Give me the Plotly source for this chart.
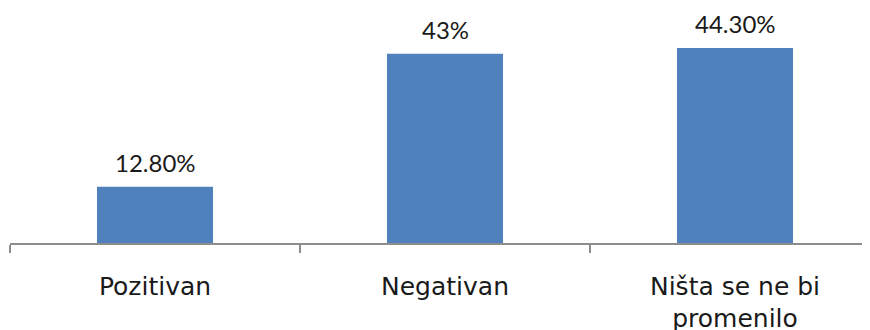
import plotly.graph_objects as go

kategorije = ['Pozitivan', 'Negativan', 'Ništa se ne bi<br>promenilo']
vrednosti = [12.8, 43, 44.3]
natpisi = ['12.80%', '43%', '44.30%']

plava = '#4F81BD'
font_natpis = "Century Gothic, Lato, sans-serif"
font_osa = "Century Gothic, DejaVu Sans, sans-serif"

fig = go.Figure(go.Bar(
    x=kategorije,
    y=vrednosti,
    marker_color=plava,
    marker_line_width=0,
    width=0.4,
    hoverinfo='skip',
))

# natpisi iznad stubova
for k, v, t in zip(kategorije, vrednosti, natpisi):
    fig.add_annotation(x=k, y=v, text=t, showarrow=False,
                       yanchor='bottom', yshift=8,
                       font=dict(size=24, color='#1a1a1a', family=font_natpis))

# stranica ima 8px margine na body, pa su margine pomerene
fig.update_layout(
    width=870, height=330,
    margin=dict(l=2, r=8, t=15, b=95),
    paper_bgcolor='white',
    plot_bgcolor='white',
    showlegend=False,
    font=dict(family=font_natpis, size=24, color='#1a1a1a'),
)

fig.update_xaxes(
    range=[-0.5, 2.5 - 10 / 290],
    showline=True, linecolor='#8c8c8c', linewidth=1.5,
    ticks='outside', tickson='boundaries', ticklen=8,
    tickcolor='#8c8c8c', tickwidth=1.5,
    tickfont=dict(family=font_osa, size=25, color='#1a1a1a'),
    ticklabelstandoff=20,
    showgrid=False,
)
fig.update_yaxes(range=[0, 50], visible=False)

fig.write_html("out.html")
